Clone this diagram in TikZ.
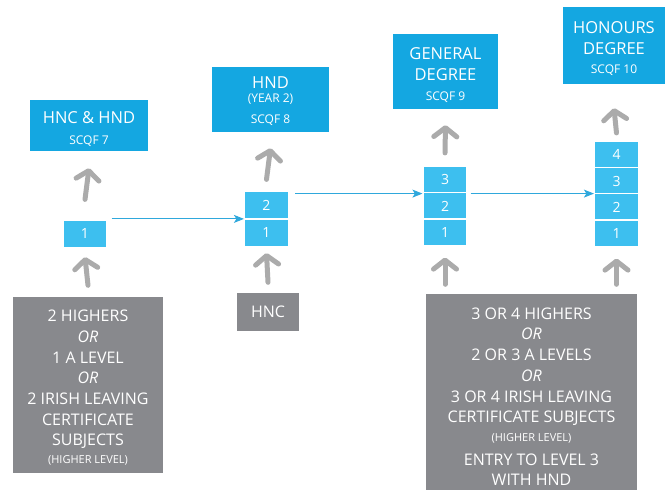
\documentclass[tikz,border=0pt]{standalone}
\usepackage{fontspec}
\setmainfont{Open Sans}
\usetikzlibrary{arrows.meta}
\definecolor{topblue}{HTML}{14A7E1}
\definecolor{cellblue}{HTML}{3DBFEF}
\definecolor{boxgray}{HTML}{88898D}
\definecolor{arrowgray}{HTML}{ABABAB}
\definecolor{lineblue}{HTML}{2FA8DC}
\begin{document}
\begin{tikzpicture}[x=1pt,y=-1pt,
  topbox/.style={fill=topblue, text=white, inner sep=0pt, align=center, font=\fontsize{16.5}{20}\selectfont},
  cell/.style={fill=cellblue, draw=white, line width=1.2pt, minimum width=44pt, minimum height=27pt, inner sep=0pt, text=white, font=\fontsize{14}{16}\selectfont},
  graybox/.style={fill=boxgray, text=white, inner sep=0pt, align=center, font=\fontsize{16}{20.7}\selectfont},
  uparrow/.style={draw=arrowgray, line width=5pt, line cap=round, -{Straight Barb[length=9pt,width=23pt,round]}},
  flow/.style={draw=lineblue, line width=0.9pt, -{Stealth[length=10pt,width=8pt,inset=2.5pt]}},
]
\newcommand\smalltxt[1]{{\fontsize{12}{14}\selectfont #1}}
\newcommand\tinytxt[1]{{\fontsize{11}{14}\selectfont #1}}
\useasboundingbox (0,0) rectangle (665,490);
\fill[white] (0,0) rectangle (665,490);

% top boxes
\node[topbox, minimum width=118pt, minimum height=51pt] (t1) at (89,125.5)
  {\rule{0pt}{20pt}HNC \& HND\\[1pt]\smalltxt{SCQF 7}};
\node[topbox, minimum width=117pt, minimum height=65pt] (t2) at (270.5,99.5)
  {\rule{0pt}{16pt}HND\\[-6pt]\smalltxt{(YEAR 2)}\\[1pt]\smalltxt{SCQF 8}};
\node[topbox, minimum width=105pt, minimum height=75pt] (t3) at (445.5,71.5)
  {\rule{0pt}{19pt}GENERAL\\[1pt]DEGREE\\[0pt]\smalltxt{SCQF 9}};
\node[topbox, minimum width=102pt, minimum height=77pt] (t4) at (614,45.5)
  {\rule{0pt}{19pt}HONOURS\\[1pt]DEGREE\\[-1pt]\smalltxt{SCQF 10}};

% cells
\node[cell] (a1) at (85,234) {1};
\node[cell] (b2) at (266.5,205) {2};
\node[cell] (b1) at (266.5,233) {1};
\node[cell] (c3) at (445,179.5) {3};
\node[cell] (c2) at (445,206) {2};
\node[cell] (c1) at (445,232.5) {1};
\node[cell] (d4) at (616.5,154.5) {4};
\node[cell] (d3) at (616.5,181) {3};
\node[cell] (d2) at (616.5,207) {2};
\node[cell] (d1) at (616.5,233.5) {1};

% gray boxes
\node[graybox, minimum width=150pt, minimum height=176pt] (g1) at (88,385)
  {\rule{0pt}{17pt}2 HIGHERS\\\textit{OR}\\1 A LEVEL\\\textit{OR}\\2 IRISH LEAVING\\CERTIFICATE\\SUBJECTS\\[-3pt]\tinytxt{(HIGHER LEVEL)}};
\node[graybox, minimum width=62pt, minimum height=38pt] (g2) at (268,312)
  {HNC};
\node[graybox, minimum width=211pt, minimum height=203pt] (g3) at (531.5,395.5)
  {\rule{0pt}{14pt}3 OR 4 HIGHERS\\\textit{OR}\\2 OR 3 A LEVELS\\\textit{OR}\\3 OR 4 IRISH LEAVING\\CERTIFICATE SUBJECTS\\[-2pt]\tinytxt{(HIGHER LEVEL)}\\[3pt]ENTRY TO LEVEL 3\\WITH HND};

% gray up arrows
\coordinate (g3c) at (c1.south|-g3.north);
\coordinate (g3d) at (d1.south|-g3.north);
\draw[uparrow] ([yshift=20.5pt]a1.north) -- ([yshift=-17pt]t1.south);
\draw[uparrow] ([yshift=11.5pt]g1.north) -- ([yshift=-9pt]a1.south);
\draw[uparrow] ([yshift=11.5pt]b2.north) -- ([yshift=-16pt]t2.south);
\draw[uparrow] ([yshift=10.5pt]g2.north) -- ([yshift=-6pt]b1.south);
\draw[uparrow] ([yshift=12.5pt]c3.north) -- ([yshift=-16pt]t3.south);
\draw[uparrow] ([yshift=9.5pt]g3c) -- ([yshift=-11pt]c1.south);
\draw[uparrow] ([yshift=7.5pt]d4.north) -- ([yshift=-24pt]t4.south);
\draw[uparrow] ([yshift=9.5pt]g3d) -- ([yshift=-11pt]d1.south);

% blue flow arrows
\draw[flow] ([xshift=4pt]a1.east|-b1.north west) -- (b1.north west);
\draw[flow] ([xshift=6pt]b2.east|-c3.south west) -- (c3.south west);
\draw[flow] ([xshift=3pt]c3.south east) -- (d3.west|-c3.south east);
\end{tikzpicture}
\end{document}
